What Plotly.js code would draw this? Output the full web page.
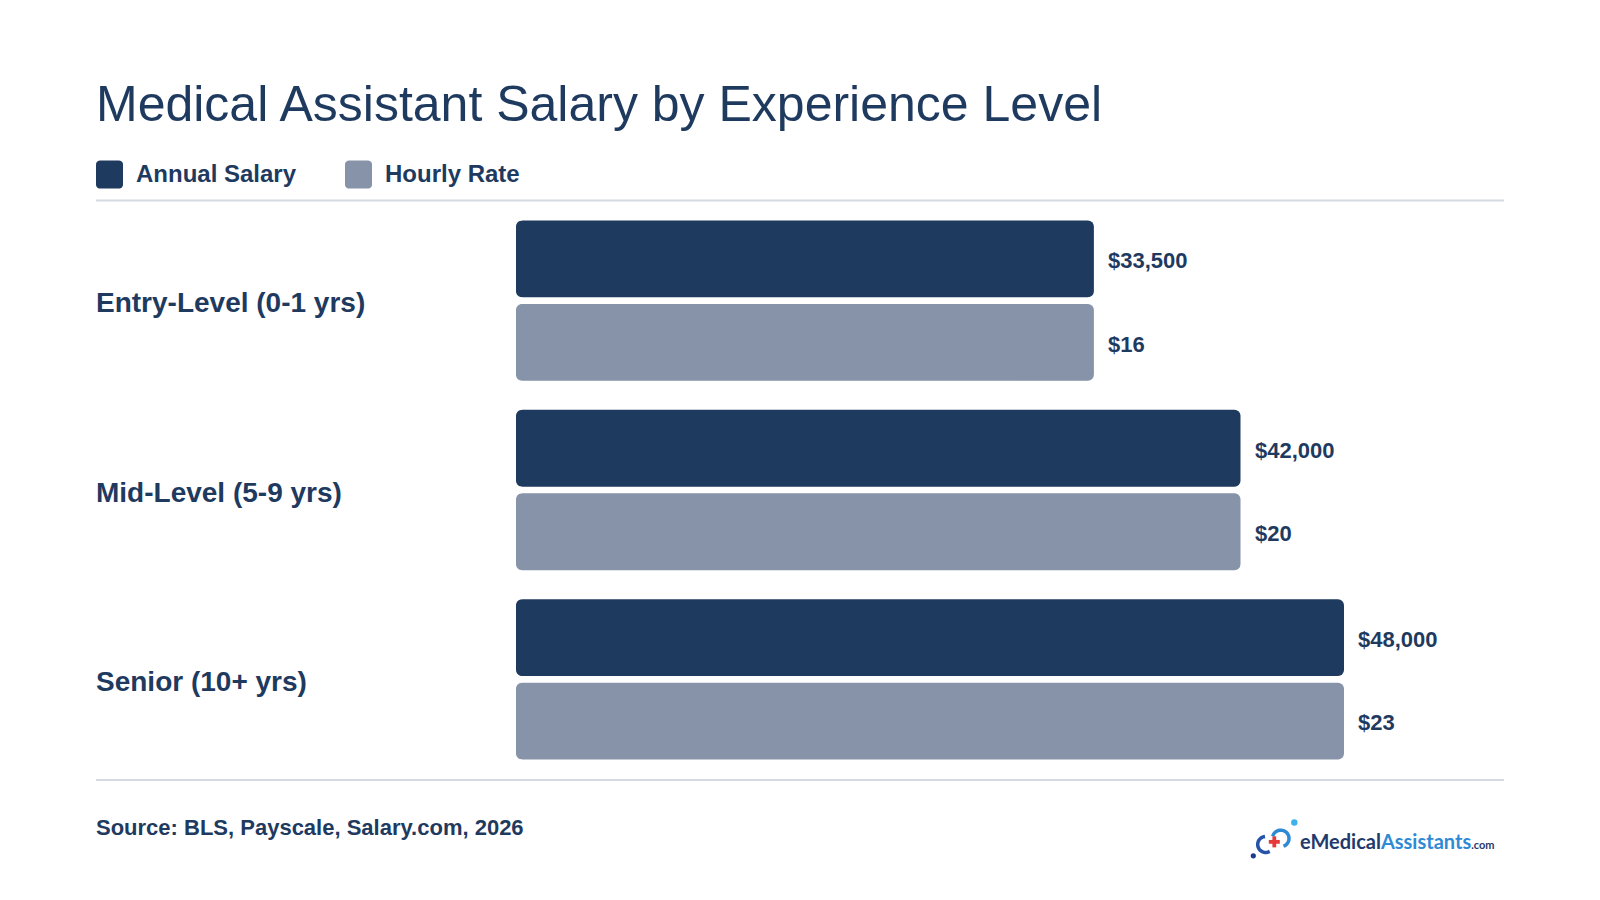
<!DOCTYPE html>
<html>
<head>
<meta charset="utf-8">
<script src="https://cdn.plot.ly/plotly-3.0.1.min.js"></script>
<style>
html,body{margin:0;padding:0;background:#ffffff;}
#chart{width:1600px;height:900px;}
</style>
</head>
<body>
<div id="chart"></div>
<script>
// ---- data ----
const categories = ["Entry-Level (0-1 yrs)", "Mid-Level (5-9 yrs)", "Senior (10+ yrs)"];
const annualSalary = [33500, 42000, 48000];
const hourlyRate = [16, 20, 23];
const annualLabels = ["$33,500", "$42,000", "$48,000"];
const hourlyLabels = ["$16", "$20", "$23"];
const seriesNames = ["Annual Salary", "Hourly Rate"];
const titleText = "Medical Assistant Salary by Experience Level";
const sourceText = "Source: BLS, Payscale, Salary.com, 2026";

// ---- style ----
const NAVY = "#1f3a5f";
const GREY = "#8693a8";
const LINE = "#d6dbe2";
const FONT = "Liberation Sans, Arial, Helvetica, sans-serif";

const W = 1600, H = 900;
const L = 516, R = 1504, T = 206.4, B = 773.9;
const PW = R - L, PH = B - T;
const BARGAP = 0.118, BARGROUPGAP = 0.08, RADIUS = 6;
const px = p => (p - L) / PW;
const py = p => (B - p) / PH;
const toPath = pts => "M" + pts.map(p => px(p[0]).toFixed(5) + "," + py(p[1]).toFixed(5)).join(" L");

function roundRect(x0, y0, x1, y1, r) {
  const pts = [];
  const seg = (cx, cy, a0, a1) => {
    for (let k = 0; k <= 6; k++) {
      const a = a0 + (a1 - a0) * k / 6;
      pts.push([cx + r * Math.cos(a), cy + r * Math.sin(a)]);
    }
  };
  seg(x1 - r, y0 + r, -Math.PI / 2, 0);
  seg(x1 - r, y1 - r, 0, Math.PI / 2);
  seg(x0 + r, y1 - r, Math.PI / 2, Math.PI);
  seg(x0 + r, y0 + r, Math.PI, 1.5 * Math.PI);
  return toPath(pts) + " Z";
}
function arcPath(cx, cy, r, a0, a1) {
  const pts = [];
  for (let k = 0; k <= 24; k++) {
    const a = (a0 + (a1 - a0) * k / 24) * Math.PI / 180;
    pts.push([cx + r * Math.cos(a), cy + r * Math.sin(a)]);
  }
  return toPath(pts);
}
function circ(cx, cy, r, color) {
  return {type: "circle", xref: "paper", yref: "paper",
    x0: px(cx - r), x1: px(cx + r), y0: py(cy + r), y1: py(cy - r),
    fillcolor: color, line: {width: 0}, layer: "above"};
}
// white mask that rounds the left (base) corners of a bar
function cornerMask(x, yEdge, dir, r) {
  // dir = +1 for a top corner (bar extends downward), -1 for a bottom corner
  const pts = [[x - 1, yEdge - dir], [x + r, yEdge - dir], [x + r, yEdge]];
  for (let k = 0; k <= 8; k++) {
    const a = -Math.PI / 2 - (Math.PI / 2) * k / 8;
    pts.push([x + r + r * Math.cos(a), yEdge + dir * (r + r * Math.sin(a))]);
  }
  pts.push([x - 1, yEdge + dir * r]);
  return {type: "path", xref: "paper", yref: "paper", path: toPath(pts) + " Z",
    fillcolor: "#ffffff", line: {width: 0}, layer: "above"};
}

const traces = [
  {
    type: "bar", orientation: "h", name: seriesNames[0],
    y: categories, x: annualSalary,
    marker: {color: NAVY, line: {width: 0}},
    hoverinfo: "skip"
  },
  {
    type: "bar", orientation: "h", name: seriesNames[1],
    // bar length shown as the annual equivalent (as in the reference), label = hourly rate
    y: categories, x: annualSalary,
    customdata: hourlyRate,
    marker: {color: GREY, line: {width: 0}},
    hoverinfo: "skip"
  }
];

const annotations = [];
categories.forEach((c, i) => {
  annotations.push({xref: "paper", yref: "y", x: px(94), y: c, xanchor: "left", yanchor: "middle",
    yshift: -2, text: c, showarrow: false, font: {family: FONT, size: 28, color: NAVY, weight: 700}});
  annotations.push({xref: "x", yref: "y", x: annualSalary[i], y: c, xanchor: "left", yanchor: "middle",
    xshift: 12, yshift: 40, text: annualLabels[i], showarrow: false,
    font: {family: FONT, size: 22, color: NAVY, weight: 700}});
  annotations.push({xref: "x", yref: "y", x: annualSalary[i], y: c, xanchor: "left", yanchor: "middle",
    xshift: 12, yshift: -43.5, text: hourlyLabels[i], showarrow: false,
    font: {family: FONT, size: 22, color: NAVY, weight: 700}});
});
// legend
annotations.push({xref: "paper", yref: "paper", x: px(134), y: py(173.5), xanchor: "left", yanchor: "middle",
  text: seriesNames[0], showarrow: false, font: {family: FONT, size: 24, color: NAVY, weight: 700}});
annotations.push({xref: "paper", yref: "paper", x: px(383), y: py(173.5), xanchor: "left", yanchor: "middle",
  text: seriesNames[1], showarrow: false, font: {family: FONT, size: 24, color: NAVY, weight: 700}});
// source
annotations.push({xref: "paper", yref: "paper", x: px(94), y: py(827.5), xanchor: "left", yanchor: "middle",
  text: sourceText, showarrow: false, font: {family: FONT, size: 22, color: NAVY, weight: 700}});
// logo text
annotations.push({xref: "paper", yref: "paper", x: px(1298), y: py(841), xanchor: "left", yanchor: "middle",
  text: '<b><span style="color:#1f3a6b">eMedical</span><span style="color:#2f8ad6">Assistants</span></b><span style="color:#1f3a6b;font-size:11px"><b>.com</b></span>',
  showarrow: false, font: {family: "Lato, Open Sans, sans-serif", size: 20, color: "#1f3a6b"}});

const shapes = [
  {type: "line", xref: "paper", yref: "paper", x0: px(96), x1: px(1504), y0: py(201), y1: py(201),
    line: {color: LINE, width: 2}},
  {type: "line", xref: "paper", yref: "paper", x0: px(96), x1: px(1504), y0: py(780), y1: py(780),
    line: {color: LINE, width: 2}},
  {type: "path", xref: "paper", yref: "paper", path: roundRect(96, 161, 123, 189, 4),
    fillcolor: NAVY, line: {width: 0}},
  {type: "path", xref: "paper", yref: "paper", path: roundRect(345, 161, 372, 189, 4),
    fillcolor: GREY, line: {width: 0}},
  // logo icon
  {type: "path", xref: "paper", yref: "paper", path: arcPath(1265.7, 844.3, 8, 60, 265),
    line: {color: "#2553a8", width: 3.5}},
  {type: "path", xref: "paper", yref: "paper", path: arcPath(1280.7, 838.3, 8.3, -165, 70),
    line: {color: "#2f8ad6", width: 3.5}},
  {type: "rect", xref: "paper", yref: "paper", x0: px(1272.4), x1: px(1276.2), y0: py(847.2), y1: py(836.2),
    fillcolor: "#e63a3a", line: {width: 0}},
  {type: "rect", xref: "paper", yref: "paper", x0: px(1268.8), x1: px(1279.8), y0: py(843.6), y1: py(839.8),
    fillcolor: "#e63a3a", line: {width: 0}},
  circ(1253.3, 855.7, 2.6, "#1f3a8b"),
  circ(1294.3, 822.3, 3.2, "#3fb0ea")
];

// round the base corners of the bars (geometry derived from the bar layout settings)
const catH = PH / categories.length;
const slot = catH * (1 - BARGAP) / 2;
const barH = slot * (1 - BARGROUPGAP);
categories.forEach((c, i) => {
  const cy = T + (i + 0.5) * catH;
  [cy - slot / 2, cy + slot / 2].forEach(bc => {
    shapes.push(cornerMask(L, bc - barH / 2, 1, RADIUS));
    shapes.push(cornerMask(L, bc + barH / 2, -1, RADIUS));
  });
});

const layout = {
  width: W, height: H,
  paper_bgcolor: "#ffffff", plot_bgcolor: "#ffffff",
  margin: {l: L, r: W - R, t: T, b: H - B, pad: 0},
  showlegend: false,
  barmode: "group",
  bargap: BARGAP,
  bargroupgap: BARGROUPGAP,
  barcornerradius: RADIUS,
  title: {
    text: titleText, xref: "container", yref: "container",
    x: 96 / W, xanchor: "left", y: 1 - 103.5 / H, yanchor: "middle",
    font: {family: FONT, size: 50, color: NAVY}
  },
  xaxis: {range: [0, PW / 0.01725], showgrid: false, zeroline: false, showticklabels: false,
    showline: false, ticks: "", fixedrange: true},
  yaxis: {type: "category", categoryorder: "array", categoryarray: categories,
    range: [2.5, -0.5], showgrid: false, zeroline: false, showticklabels: false,
    showline: false, ticks: "", fixedrange: true},
  annotations: annotations,
  shapes: shapes
};

Plotly.newPlot("chart", traces, layout, {displayModeBar: false, staticPlot: true});
</script>
</body>
</html>
